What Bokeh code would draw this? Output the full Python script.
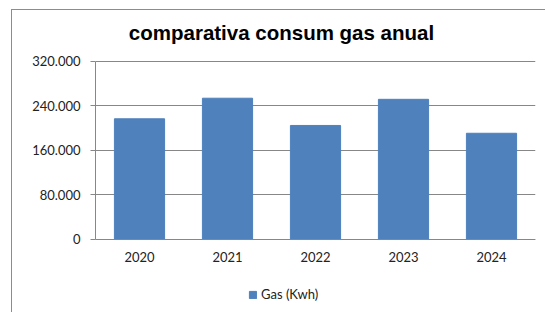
from bokeh.plotting import figure
from bokeh.models import (ColumnDataSource, Legend, LegendItem, Label,
                          CustomJSTickFormatter, FixedTicker, Range1d)
from bokeh.embed import file_html
from bokeh.resources import INLINE

years = ["2020", "2021", "2022", "2023", "2024"]
gas_kwh = [217000, 254000, 205000, 252000, 191000]
y_ticks = [0, 80000, 160000, 240000, 320000]
title_text = "comparativa consum gas anual"
series_name = "Gas (Kwh)"

BAR = "#4F81BD"
GRID = "#878787"

src = ColumnDataSource(dict(year=years, gas=gas_kwh))

# frame spans the whole canvas height; axis/grid limited to 0..320000
p = figure(x_range=years, y_range=Range1d(-118652, 411685), width=534, height=303,
           output_backend="svg", toolbar_location=None, title=None,
           min_border_left=83, min_border_right=11, min_border_top=0,
           min_border_bottom=8)
p.styles = {"margin-left": "11px", "margin-top": "9px",
            "border-left": "1px solid #8c8c8c", "border-top": "1px solid #8c8c8c"}
p.outline_line_color = None
p.background_fill_color = "white"
p.border_fill_color = "white"

r = p.vbar(x="year", top="gas", width=0.57, source=src, fill_color=BAR,
           line_color=BAR)

p.xgrid.visible = False
p.ygrid.grid_line_color = GRID
p.ygrid.ticker = FixedTicker(ticks=y_ticks)

p.yaxis.ticker = FixedTicker(ticks=y_ticks)
p.yaxis.bounds = (0, 320000)
p.yaxis.formatter = CustomJSTickFormatter(
    code="return tick.toFixed(0).replace(/\\B(?=(\\d{3})+(?!\\d))/g, '.');")
p.yaxis.axis_line_color = GRID
p.yaxis.major_tick_line_color = GRID
p.yaxis.major_tick_out = 5
p.yaxis.major_tick_in = 0
p.yaxis.minor_tick_line_color = None
p.yaxis.major_label_standoff = 10
p.yaxis.major_label_text_font = "Lato"
p.yaxis.major_label_text_font_size = "13px"
p.yaxis.major_label_text_color = "#222222"

p.xaxis.fixed_location = 0
p.xaxis.axis_line_color = GRID
p.xaxis.major_tick_line_color = None
p.xaxis.major_tick_out = 0
p.xaxis.major_label_standoff = 13
p.xaxis.major_label_text_font = "Lato"
p.xaxis.major_label_text_font_size = "13px"
p.xaxis.major_label_text_color = "#222222"

title = Label(x=186, y=273, x_units="screen", y_units="screen", text=title_text,
              text_align="center", text_baseline="alphabetic",
              text_font="Liberation Sans", text_font_style="bold",
              text_font_size="20.5px", text_color="black")
p.add_layout(title)

legend = Legend(items=[LegendItem(label=series_name, renderers=[r])],
                location=(153, 3), orientation="horizontal",
                border_line_color=None, background_fill_alpha=0,
                padding=0, margin=0, glyph_width=9, glyph_height=9,
                label_standoff=4, label_text_font="Lato",
                label_text_font_size="13px", label_text_color="#222222",
                spacing=0)
p.add_layout(legend, "center")

open("out.html", "w").write(file_html(p, INLINE))
